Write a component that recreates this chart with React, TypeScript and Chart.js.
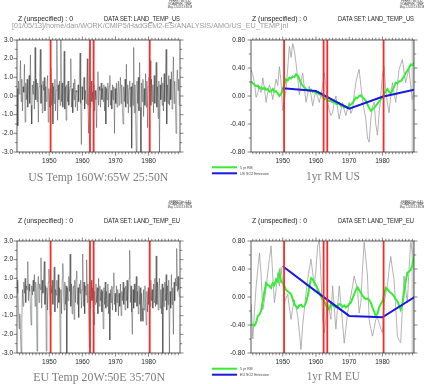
import React, { useEffect, useRef } from "react";
import { Chart, registerables } from "chart.js";

Chart.register(...registerables);

// ---------------- data ----------------
const X_MIN_RAW = 1940.25;
const X_MIN_RM = 1940.45;
const X_MAX = 1989.5;
const X_LABEL_STEP = 10;

const RAW_START = 1940.3;
const RAW_STEP = 0.2;
const RM_START = 1940.5;
const RM_STEP = 0.5;

const RED_YEARS = [1950.4, 1962.3, 1963.4, 1980.35];

const SO2_YEARS = [1950, 1960, 1970, 1980, 1990];
const US_SO2 = [0.11, 0.07, -0.18, -0.01, 0.095];
const EU_SO2 = [0.44, 0.08, -0.27, -0.29, 0.01];

const US_RAW = [
  0.4, -1.6, 0.8, 0.1, 0.6, 1.9, -0.3, 0.9, -0.8, 0.5,
  0.2, 1.7, -1.4, 0.7, -0.2, 0.9, -0.6, 0.3, 1.1, -0.4,
  2.2, -0.5, -1.5, 0.6, 0.1, 0.8, -0.7, 2.6, -0.2, 0.9,
  -0.3, 0.7, -1.4, 0.5, 1.2, 2.5, -0.4, 0.6, -0.9, 0.8,
  0.3, 1.0, -0.8, 0.5, -0.3, 0.6, 1.1, -1.4, 0.4, -0.6,
  0.2, 1.5, -0.5, 0.7, -1.5, 0.5, -0.4, 0.9, -0.8, 0.3,
  3.0, -1.3, 0.6, -0.2, 0.8, -0.5, 3.0, -0.3, 0.7, -0.6,
  0.4, 2.4, -0.7, 0.5, -1.3, 0.6, -0.3, 0.8, -0.5, 0.2,
  0.5, 2.0, -0.6, 0.4, -0.9, 0.7, -0.2, 0.9, -0.6, 0.3,
  0.2, -0.8, 0.6, -0.3, 0.8, 2.3, -0.4, -2.6, 0.5, -0.2,
  0.6, 1.0, -0.7, 0.3, -0.4, 0.7, 2.0, -0.5, -2.0, 0.4,
  0.5, -0.6, 0.8, -0.3, 0.2, -0.4, 0.6, -0.8, 0.3, -0.2,
  -1.7, 0.4, 1.3, -0.5, 0.5, 0.3, -0.6, 0.7, -0.2, 0.4,
  -0.3, 0.6, -0.8, 0.5, -1.5, 0.4, -0.2, 0.7, -0.6, 0.5,
  1.1, -0.5, 0.3, -0.7, 0.6, -0.2, 0.5, -2.0, 0.4, -0.4,
  0.7, -0.6, 0.2, 0.8, -0.5, 0.3, 1.0, -0.4, 0.6, -0.7,
  -1.5, 0.5, -0.3, 0.9, -0.6, 1.7, -0.4, 0.6, -0.9, 0.4,
  0.8, -0.6, 0.5, -2.8, 0.7, -0.5, 2.6, -0.9, 0.6, -1.2,
  -3.0, 0.8, -0.4, 1.0, -0.8, 1.8, -0.6, -3.0, 0.7, -0.3,
  0.9, -1.1, 0.4, -0.5, 1.2, -0.6, 0.8, -1.7, 0.5, 1.0,
  0.4, 1.9, -0.5, 0.9, -0.3, 0.6, -0.9, 1.1, -0.4, 0.7,
  1.8, -0.6, 0.5, -1.2, 0.8, -3.0, 0.6, -0.2, 1.0, -0.5,
  0.7, -0.8, 1.2, -0.3, 0.9, 2.5, -1.5, 0.6, -0.4, 1.1,
  -0.5, 0.9, -0.2, 1.3, -0.7, 0.6, 2.1, -0.4, 0.8, -0.3,
  -2.0, 0.7, 1.4, 0.3, 0.9, -0.5,
];

const EU_RAW = [
  0.9, 0.2, -0.6, -1.7, -0.9, -2.0, -3.0, -1.2, 0.4, -0.5,
  0.8, 0.2, 1.0, -0.3, 0.6, 0.4, 1.9, -0.2, 0.7, 0.3,
  -0.4, -1.5, 0.6, 0.1, 0.9, 0.3, 1.2, -0.5, 0.8, 0.2,
  -2.9, 0.5, 1.1, -0.3, 0.7, 0.4, 2.1, -0.6, 0.9, 0.2,
  1.2, 1.9, -0.4, 0.6, -2.9, 0.5, -0.7, 0.8, 1.5, 0.1,
  -1.0, 0.6, 0.2, 0.9, -0.4, 0.7, 1.6, -0.8, 0.4, 0.1,
  0.9, -0.6, 1.2, -0.3, 0.5, -3.0, 0.4, -0.9, 1.0, 1.8,
  0.2, -0.7, 0.8, -0.4, 0.6, -3.0, 0.5, -0.2, 1.1, 0.3,
  2.3, -0.5, 0.7, -0.9, 0.4, 0.6, -1.2, 0.9, -0.3, 1.0,
  1.4, -0.4, 0.5, -1.1, 0.7, 0.2, 0.9, -0.6, 0.4, 2.3,
  -0.5, 0.8, -0.9, 0.6, 0.1, 2.0, -0.3, 0.7, -1.0, -2.7,
  0.4, -0.6, 0.9, -0.2, 0.5, -0.8, -1.5, 0.3, -0.4, 0.7,
  -0.3, 0.5, -0.9, 1.0, -0.5, 0.6, -0.2, 0.4, -0.8, 0.3,
  -1.7, 0.5, -0.4, 0.8, -0.6, 0.3, -0.5, 0.7, -0.9, 0.2,
  -2.3, 0.4, -0.3, 0.6, -0.7, 0.5, 1.3, -0.4, 0.2, -0.8,
  0.6, -0.3, 0.4, -1.0, 0.2, -0.5, 0.7, -1.0, 0.3, -0.2,
  0.8, -0.4, 0.5, -0.7, 0.6, -0.2, 0.9, -0.6, 0.4, 1.0,
  2.5, -0.3, 0.6, -0.8, -2.0, 0.4, -0.6, 0.7, -0.3, 0.5,
  1.1, -0.5, 0.3, -0.9, 0.6, -0.4, 0.5, -1.3, 0.2, -0.6,
  -1.3, 0.4, -0.7, 0.6, -0.3, -1.5, 0.3, -0.8, 0.5, -0.4,
  0.6, -0.5, 0.9, -0.2, 0.4, -0.6, 0.7, -0.3, 1.0, -0.5,
  2.2, -0.4, 0.8, -0.7, 0.5, 1.0, -0.6, 0.4, -0.9, 0.7,
  -3.0, 0.5, -0.5, 0.8, -0.2, 1.2, -0.7, 0.6, -0.4, 0.9,
  -3.0, 0.3, -0.6, 1.2, -0.4, 0.5, -2.0, 0.8, -0.2, 1.0,
  0.6, 2.6, 0.3, 1.1, 0.4, 0.0,
];

const US_RM1 = [
  0.38, 0.30, 0.18, -0.02, 0.05, 0.14, 0.05, 0.26, 0.10, -0.09,
  0.05, 0.16, 0.08, -0.05, 0.10, 0.24, 0.15, 0.42, 0.20, -0.21,
  -0.05, 0.09, 0.40, 0.71, 0.55, 0.75, 0.65, 0.47, 0.25, 0.02,
  0.20, 0.33, 0.12, -0.09, 0.03, 0.14, 0.02, -0.14, -0.02, 0.07,
  -0.02, -0.09, 0.02, 0.14, 0.33, 0.15, -0.09, -0.20, -0.28, -0.24,
  -0.08, 0.0, -0.18, -0.33, -0.20, -0.09, -0.20, -0.28, -0.18, -0.09,
  -0.25, -0.19, 0.02, 0.19, 0.30, 0.38, 0.15, -0.05, -0.20, -0.33,
  -0.60, -0.66, -0.33, -0.15, -0.09, -0.40, -0.56, -0.25, 0.0, 0.30,
  0.42, 0.09, -0.10, -0.24, 0.0, 0.19, 0.05, -0.09, 0.15, 0.38,
  0.45, 0.52, 0.35, 0.19, 0.30, 0.38, 0.15, -0.05, 0.05,
];

const US_RM5 = [
  0.21, 0.18, 0.16, 0.14, 0.15, 0.11, 0.12, 0.10, 0.12, 0.09,
  0.10, 0.06, 0.07, 0.10, 0.06, 0.07, 0.04, 0.00, 0.03, 0.09,
  0.17, 0.24, 0.22, 0.26, 0.25, 0.28, 0.27, 0.31, 0.29, 0.24,
  0.18, 0.15, 0.12, 0.10, 0.08, 0.07, 0.09, 0.06, 0.07, 0.04,
  0.05, 0.02, 0.03, -0.01, -0.05, -0.03, -0.06, -0.07, -0.07, -0.09,
  -0.08, -0.11, -0.12, -0.10, -0.14, -0.13, -0.16, -0.15, -0.17, -0.14,
  -0.12, -0.10, -0.06, -0.02, -0.03, 0.00, 0.01, -0.02, -0.04, -0.07,
  -0.12, -0.17, -0.21, -0.19, -0.17, -0.14, -0.11, -0.08, -0.05, -0.02,
  0.03, 0.07, 0.10, 0.06, 0.03, 0.08, 0.13, 0.19, 0.18, 0.21,
  0.21, 0.24, 0.28, 0.33, 0.36, 0.40, 0.45, 0.44, 0.48,
];

const EU_RM1 = [
  -0.10, -0.60, -0.20, 0.16, 0.40, 0.63, 0.30, -0.18, -0.05, 0.13,
  0.35, 0.55, 0.73, 0.30, -0.08, 0.10, 0.35, 0.16, 0.42, 0.20,
  -0.08, -0.02, 0.04, -0.15, -0.32, -0.15, -0.04, -0.15, -0.27, -0.50,
  -0.75, -0.40, -0.18, 0.05, 0.25, 0.40, 0.54, 0.35, 0.16, 0.40,
  0.73, 0.82, 0.30, -0.32, -0.51, -0.30, -0.08, -0.20, -0.32, 0.16,
  -0.15, -0.46, -0.15, 0.16, -0.10, -0.37, -0.66, -0.45, -0.23, -0.10,
  0.01, 0.15, 0.30, 0.20, 0.11, -0.23, -0.08, 0.40, 0.78, 0.55,
  0.30, -0.32, -0.45, -0.56, -0.45, -0.32, -0.30, -0.37, -0.45, -0.51,
  -0.08, 0.05, 0.16, 0.40, 0.58, 0.40, 0.25, -0.15, -0.56, -0.62,
  -0.65, -0.15, 0.30, 0.10, -0.08, 0.40, 0.78, 0.65, 0.54,
];

const EU_RM5 = [
  -0.39, -0.40, -0.41, -0.36, -0.27, -0.25, -0.20, -0.06, 0.08, 0.20,
  0.17, 0.16, 0.13, 0.20, 0.17, 0.25, 0.22, 0.35, 0.22, 0.20,
  0.16, 0.10, 0.08, 0.06, 0.04, -0.03, -0.11, -0.13, -0.16, -0.12,
  -0.11, -0.14, -0.13, -0.08, 0.01, 0.14, 0.27, 0.25, 0.21, 0.17,
  0.11, 0.06, 0.01, -0.03, -0.06, -0.12, -0.16, -0.18, -0.10, -0.12,
  -0.13, -0.15, -0.13, -0.10, -0.11, -0.14, -0.12, -0.15, -0.13, -0.10,
  -0.08, -0.02, 0.04, 0.10, 0.14, 0.10, 0.06, 0.02, -0.01, -0.03,
  -0.02, -0.04, -0.08, -0.15, -0.21, -0.27, -0.24, -0.15, -0.10, -0.06,
  0.04, 0.13, 0.11, 0.08, 0.06, 0.04, 0.01, -0.03, -0.06, -0.12,
  -0.18, -0.10, 0.06, 0.22, 0.35, 0.36, 0.39, 0.45, 0.59,
];

const RAW_Y = { min: -3, max: 3, minor: 0.5 };
const RM_Y = { min: -0.8, max: 0.8, minor: 0.2 };

// ---------------- helpers ----------------
const series = (start: number, step: number, vals: number[]) =>
  vals.map((y, i) => ({ x: +(start + i * step).toFixed(3), y }));
const pairs = (xs: number[], ys: number[]) => xs.map((x, i) => ({ x, y: ys[i] }));
const vline = (x: number, y0: number, y1: number) => [
  { x, y: y0 },
  { x, y: y1 },
];

const FONT = "'Liberation Sans', Arial, Helvetica, sans-serif";
const RED = "#ff2828";
const GREEN = "#33ee33";
const BLUE = "#1818e0";

const frameTicks = {
  id: "frameTicks",
  afterDraw(chart: any) {
    const { ctx, chartArea: a, scales } = chart;
    const xs = scales.x;
    const ys = scales.y;
    ctx.save();
    ctx.strokeStyle = "#333";
    ctx.lineWidth = 0.8;
    ctx.strokeRect(a.left, a.top, a.right - a.left, a.bottom - a.top);
    ctx.lineWidth = 0.6;
    ctx.beginPath();
    for (const t of xs.ticks) {
      const px = xs.getPixelForValue(t.value);
      const len = t.label ? 3.5 : 2.2;
      ctx.moveTo(px, a.bottom);
      ctx.lineTo(px, a.bottom + len);
      ctx.moveTo(px, a.top);
      ctx.lineTo(px, a.top - len);
    }
    for (const t of ys.ticks) {
      const py = ys.getPixelForValue(t.value);
      const len = t.label ? 3.5 : 2.2;
      ctx.moveTo(a.left, py);
      ctx.lineTo(a.left - len, py);
      ctx.moveTo(a.right, py);
      ctx.lineTo(a.right + len, py);
    }
    ctx.stroke();
    ctx.restore();
  },
};

type PanelProps = {
  L: number;
  T: number;
  R: number;
  B: number;
  ml: number;
  kind: "raw" | "rm";
  raw?: number[];
  rm1?: number[];
  rm5?: number[];
  so2?: number[];
  labelGap: number;
};

function Panel(p: PanelProps) {
  const ref = useRef<HTMLCanvasElement>(null);
  const MT = 10;
  const MR = 10;
  const MB = 24;
  const XH = 14;
  const YW = p.ml - 1;
  const w = p.ml + (p.R - p.L) + MR;
  const h = MT + (p.B - p.T) + MB;

  useEffect(() => {
    const isRaw = p.kind === "raw";
    const yr = isRaw ? RAW_Y : RM_Y;
    const datasets: any[] = [];
    RED_YEARS.forEach((yv) =>
      datasets.push({
        data: vline(yv, yr.min, yr.max),
        borderColor: RED,
        borderWidth: 1.8,
        order: 0,
      })
    );
    if (isRaw) {
      datasets.push({
        data: series(RAW_START, RAW_STEP, p.raw!),
        borderColor: "rgba(35,35,35,0.72)",
        borderWidth: 0.55,
        order: 5,
      });
    } else {
      datasets.push({
        data: pairs(SO2_YEARS, p.so2!),
        borderColor: BLUE,
        borderWidth: 2,
        order: 1,
      });
      datasets.push({
        data: series(RM_START, RM_STEP, p.rm5!),
        borderColor: GREEN,
        borderWidth: 2,
        order: 2,
      });
      datasets.push({
        data: series(RM_START, RM_STEP, p.rm1!),
        borderColor: "#9a9a9a",
        borderWidth: 0.75,
        order: 3,
      });
      datasets.push({
        data: vline(X_MAX, yr.min, yr.max),
        borderColor: "#d2d2d2",
        borderWidth: 5,
        order: 4,
      });
    }
    datasets.forEach((d) => {
      d.pointRadius = 0;
      d.tension = 0;
      d.fill = false;
      d.clip = 0;
    });

    const chart = new Chart(ref.current!, {
      type: "line",
      data: { datasets },
      plugins: [frameTicks],
      options: {
        animation: false,
        responsive: false,
        devicePixelRatio: 1,
        events: [],
        layout: { padding: { left: p.ml - YW, top: MT, right: MR, bottom: MB - XH } },
        plugins: { legend: { display: false }, tooltip: { enabled: false } },
        scales: {
          x: {
            type: "linear",
            min: isRaw ? X_MIN_RAW : X_MIN_RM,
            max: X_MAX,
            grid: { display: false, drawTicks: false },
            border: { display: false },
            afterFit: (s: any) => {
              s.height = XH;
            },
            ticks: {
              stepSize: 1,
              includeBounds: false,
              autoSkip: false,
              maxRotation: 0,
              padding: 5,
              color: "#222",
              font: { family: FONT, size: 6.5 },
              callback: (v: any) => (Math.round(v) % X_LABEL_STEP === 0 ? String(Math.round(v)) : ""),
            },
          },
          y: {
            type: "linear",
            min: yr.min,
            max: yr.max,
            grid: { display: false, drawTicks: false },
            border: { display: false },
            afterFit: (s: any) => {
              s.width = YW;
            },
            ticks: {
              stepSize: yr.minor,
              includeBounds: false,
              autoSkip: false,
              padding: p.labelGap,
              color: "#222",
              font: { family: FONT, size: 6.5 },
              callback: (v: any) => {
                const r = Math.round(v * 10);
                if (isRaw) return r % 10 === 0 ? (r / 10).toFixed(1) : "";
                return r % 4 === 0 ? (r / 10).toFixed(2) : "";
              },
            },
          },
        },
      } as any,
    });
    return () => chart.destroy();
  }, []);

  return (
    <canvas
      ref={ref}
      width={w}
      height={h}
      style={{ position: "absolute", left: p.L - p.ml, top: p.T - MT, width: w, height: h }}
    />
  );
}

const SANS = "'Liberation Sans', Arial, Helvetica, sans-serif";
const SERIF = "'Liberation Serif', 'DejaVu Serif', serif";

function Header({ cx, y }: { cx: number; y: number }) {
  return (
    <g fontFamily={SANS} fontSize={2.6} fill="#333" textAnchor="middle">
      <text x={cx} y={y}>FERRET Ver. 6.82</text>
      <text x={cx} y={y + 2.6}>NOAA/PMEL TMAP</text>
      <text x={cx} y={y + 5.2}>May 1 2013 13:36:38</text>
    </g>
  );
}

function Legend({ y, label }: { y: number; label: string }) {
  return (
    <g>
      <line x1={212} x2={237} y1={y} y2={y} stroke={GREEN} strokeWidth={2} />
      <line x1={212} x2={237} y1={y + 6} y2={y + 6} stroke={BLUE} strokeWidth={2} />
      <text x={240} y={y + 1.3} fontFamily={SANS} fontSize={3.6} fill="#444">5 yr RM</text>
      <text x={240} y={y + 7.3} fontFamily={SANS} fontSize={3.6} fill="#444">{label}</text>
    </g>
  );
}

export default function App() {
  const small = { fontFamily: SANS, fontSize: 7, fill: "#222" } as any;
  const big = { fontFamily: SERIF, fontSize: 11.5, fill: "#7d7d7d" } as any;
  return (
    <div style={{ position: "absolute", left: 0, top: 0, width: 431, height: 384, background: "#fff", overflow: "hidden" }}>
      <Panel L={17} T={40} R={180} B={152} ml={17} kind="raw" raw={US_RAW} labelGap={4} />
      <Panel L={251} T={40} R={414} B={152} ml={36} kind="rm" rm1={US_RM1} rm5={US_RM5} so2={US_SO2} labelGap={6} />
      <Panel L={17} T={241} R={180} B={353} ml={17} kind="raw" raw={EU_RAW} labelGap={4} />
      <Panel L={251} T={241} R={414} B={353} ml={36} kind="rm" rm1={EU_RM1} rm5={EU_RM5} so2={EU_SO2} labelGap={6} />
      <svg width={431} height={384} style={{ position: "absolute", left: 0, top: 0, pointerEvents: "none" }}>
        <Header cx={180} y={2.3} />
        <Header cx={412} y={2.3} />
        <Header cx={180} y={202.5} />
        <Header cx={412} y={202.5} />

        <text x={18} y={21} textLength={55} lengthAdjust="spacingAndGlyphs" {...small}>Z (unspecified) : 0</text>
        <text x={104} y={21} textLength={76} lengthAdjust="spacingAndGlyphs" {...small}>DATA SET: LAND_TEMP_US</text>
        <text x={252} y={21} textLength={55} lengthAdjust="spacingAndGlyphs" {...small}>Z (unspecified) : 0</text>
        <text x={338} y={21} textLength={76} lengthAdjust="spacingAndGlyphs" {...small}>DATA SET: LAND_TEMP_US</text>
        <text x={12} y={27.5} textLength={276} lengthAdjust="spacingAndGlyphs" fontFamily={SANS} fontSize={8} fill="#9a9a9a">
          [01/05/13]/home/dan/WORK/CMIP5/HadGEM2-ES/ANALYSIS/AMO/US_EU_TEMP.jnl
        </text>

        <text x={18} y={222.5} textLength={55} lengthAdjust="spacingAndGlyphs" {...small}>Z (unspecified) : 0</text>
        <text x={104} y={222.5} textLength={76} lengthAdjust="spacingAndGlyphs" {...small}>DATA SET: LAND_TEMP_EU</text>
        <text x={252} y={222.5} textLength={55} lengthAdjust="spacingAndGlyphs" {...small}>Z (unspecified) : 0</text>
        <text x={338} y={222.5} textLength={76} lengthAdjust="spacingAndGlyphs" {...small}>DATA SET: LAND_TEMP_EU</text>

        <text x={28.3} y={181} textLength={140} lengthAdjust="spacingAndGlyphs" {...big}>US Temp 160W:65W 25:50N</text>
        <text x={306} y={179.5} textLength={54} lengthAdjust="spacingAndGlyphs" {...big}>1yr RM US</text>
        <text x={33.3} y={381} textLength={131.7} lengthAdjust="spacingAndGlyphs" {...big}>EU Temp 20W:50E 35:70N</text>
        <text x={306.7} y={380} textLength={53.3} lengthAdjust="spacingAndGlyphs" {...big}>1yr RM EU</text>

        <Legend y={167.3} label="US SO2 Emission" />
        <Legend y={368.7} label="EU SO2 Emission" />
      </svg>
    </div>
  );
}
